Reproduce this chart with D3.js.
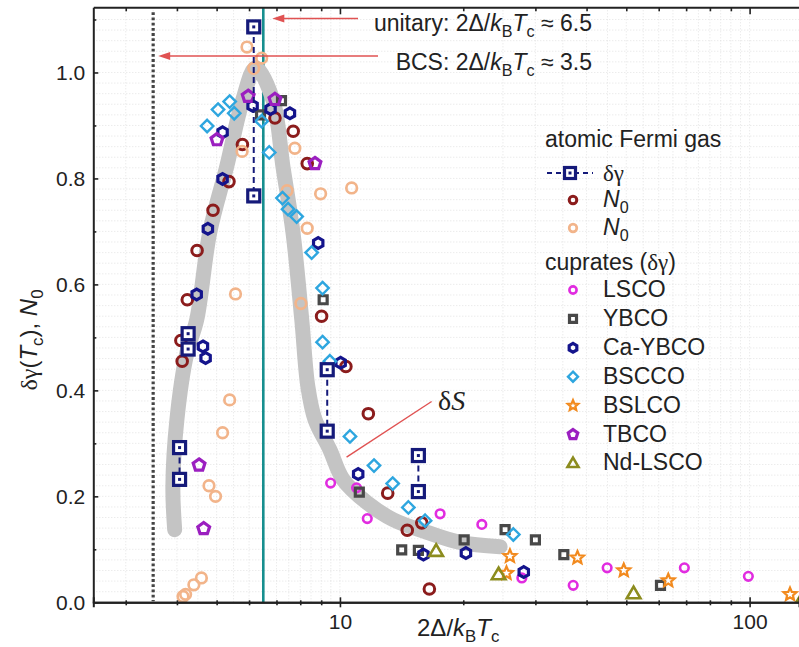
<!DOCTYPE html>
<html><head><meta charset="utf-8">
<script src="https://cdn.jsdelivr.net/npm/d3@7"></script>
<style>
html,body{margin:0;padding:0;background:#fff;}
svg{display:block;font-family:"Liberation Sans",Arial,sans-serif;}
</style></head><body>
<svg id="chart" width="799" height="647"></svg>
<script>
// ---- data ----
// atomic Fermi gas, delta-gamma: each x carries an upper and lower value joined by a dashed line
const dgX    = [4.06, 4.26, 6.16, 9.31, 15.54];
const dgHigh = [0.292, 0.507, 1.086, 0.439, 0.277];
const dgLow  = [0.232, 0.478, 0.767, 0.323, 0.209];

// atomic Fermi gas, N0 (two data sets)
const n0aX = [4.09, 4.12, 4.24, 4.48, 4.90, 5.36, 5.78, 6.94, 7.69, 8.32, 9.02, 10.34, 11.73, 13.08, 14.6, 15.84, 16.53];
const n0aY = [0.494, 0.455, 0.571, 0.664, 0.740, 0.794, 0.864, 0.914, 0.889, 0.828, 0.540, 0.445, 0.356, 0.206, 0.136, 0.150, 0.025];
const n0bX = [4.14, 4.20, 4.40, 4.59, 4.79, 4.97, 5.17, 5.38, 5.56, 5.77, 5.93, 6.16, 6.44, 7.43, 7.76, 8.03, 8.32, 8.97, 10.68];
const n0bY = [0.011, 0.015, 0.033, 0.046, 0.220, 0.200, 0.320, 0.382, 0.582, 0.851, 1.048, 1.008, 1.027, 0.777, 0.857, 0.564, 0.706, 0.771, 0.782];

// cuprates, delta-gamma
const lscoX = [9.49, 10.98, 11.66, 17.56, 22.2, 27.8, 37.1, 44.9, 69.3, 99.3];
const lscoY = [0.225, 0.216, 0.158, 0.167, 0.147, 0.046, 0.032, 0.065, 0.065, 0.049];
const ybcoX = [6.4, 7.2, 9.1, 11.15, 14.15, 15.54, 20.1, 25.3, 30.0, 35.2, 60.6];
const ybcoY = [0.920, 0.947, 0.571, 0.208, 0.099, 0.098, 0.118, 0.137, 0.118, 0.090, 0.032];
const caybcoX = [4.47, 4.63, 4.70, 4.76, 5.17, 5.17, 6.12, 6.77, 7.55, 8.85, 10.04, 11.08, 15.99, 20.3, 28.1];
const caybcoY = [0.581, 0.483, 0.461, 0.705, 0.799, 0.887, 0.937, 0.931, 0.923, 0.678, 0.452, 0.242, 0.090, 0.093, 0.057];
const bsccoX = [4.74, 5.04, 5.38, 5.52, 6.44, 6.72, 7.24, 7.47, 7.84, 8.53, 9.07, 9.07, 9.45, 10.58, 12.11, 13.45, 14.69, 16.14, 26.5];
const bsccoY = [0.899, 0.930, 0.945, 0.923, 0.908, 0.849, 0.763, 0.742, 0.728, 0.660, 0.593, 0.491, 0.455, 0.313, 0.258, 0.224, 0.179, 0.154, 0.128];
const bslcoX = [25.5, 26.0, 38.0, 49.3, 63.3, 125.5];
const bslcoY = [0.055, 0.087, 0.084, 0.060, 0.041, 0.015];
const tbcoX = [4.53, 4.65, 5.01, 5.97, 6.94, 8.69];
const tbcoY = [0.259, 0.139, 0.873, 0.955, 0.949, 0.828];
const ndlscoX = [17.17, 24.4, 52.1, 135];
const ndlscoY = [0.096, 0.052, 0.016, 0.008];

// entropy-jump guide curve (delta S)
const dsX = [3.95, 3.91, 4.00, 4.23, 4.47, 4.81, 5.29, 5.79, 6.23, 6.86, 7.26, 7.68, 8.07, 8.35, 8.69, 9.45, 10.17, 11.64, 13.48, 16.32, 19.65, 24.6];
const dsY = [0.137, 0.218, 0.345, 0.471, 0.533, 0.698, 0.822, 0.948, 1.009, 0.948, 0.822, 0.698, 0.533, 0.407, 0.345, 0.288, 0.232, 0.188, 0.156, 0.132, 0.113, 0.105];

// reference gap ratios
const bcsRatio = 3.5;
const unitaryRatio = 6.5;

// axis ticks
const xMajor = [10, 100];
const xMinor = [3, 4, 5, 6, 7, 8, 9, 20, 30, 40, 50, 60, 70, 80, 90];
const yMajor = [0, 0.2, 0.4, 0.6, 0.8, 1.0];
const yMinor = [0.1, 0.3, 0.5, 0.7, 0.9, 1.1];

// ---- layout ----
const svg = d3.select('#chart');
const pL = 93.3, pR = 799, pT = 7.3, pB = 602.3;
const x = d3.scaleLog().domain([2.5, 132]).range([pL, pR]);
const y = d3.scaleLinear().domain([0, 1.123]).range([pB, pT]);

svg.append('defs').append('clipPath').attr('id', 'plotclip')
  .append('rect').attr('x', pL).attr('y', pT).attr('width', pR - pL).attr('height', pB - pT);

// light dotted background grid
const grid = svg.append('g').attr('stroke', '#dcdcdc').attr('stroke-width', 0.8).attr('stroke-dasharray', '1 2');
const hGrid = d3.range(0.02, 1.12, 0.02);
grid.selectAll('line.h').data(hGrid).join('line')
  .attr('x1', pL).attr('x2', pR).attr('y1', d => y(d)).attr('y2', d => y(d));
const vGrid = [];
[1, 10].forEach(dec => [2.5, 3, 3.5, 4, 4.5, 5, 5.5, 6, 6.5, 7, 7.5, 8, 8.5, 9, 9.5, 10].forEach(m => vGrid.push(m * dec)));
grid.selectAll('line.v').data(vGrid.filter(v => v > 2.5 && v < 132)).join('line')
  .attr('y1', pT).attr('y2', pB).attr('x1', d => x(d)).attr('x2', d => x(d));

const plot = svg.append('g').attr('clip-path', 'url(#plotclip)');

// reference lines
plot.append('line').attr('x1', x(unitaryRatio)).attr('x2', x(unitaryRatio)).attr('y1', pT).attr('y2', pB)
  .attr('stroke', '#178f8f').attr('stroke-width', 2.6);
plot.append('line').attr('x1', x(bcsRatio)).attr('x2', x(bcsRatio)).attr('y1', pT + 5).attr('y2', pB - 1)
  .attr('stroke', '#444').attr('stroke-width', 3.2).attr('stroke-dasharray', '2.8 2.4');

// guide curve
const dsPts = dsX.map((v, i) => [v, dsY[i]]);
plot.append('path').datum(dsPts)
  .attr('d', d3.line().x(d => x(d[0])).y(d => y(d[1])).curve(d3.curveCatmullRom.alpha(0.5)))
  .attr('fill', 'none').attr('stroke', '#c4c4c4').attr('stroke-width', 15)
  .attr('stroke-linecap', 'round').attr('stroke-linejoin', 'round');

// ---- marker shapes ----
function poly(n, r, rot) {
  const p = d3.path();
  for (let i = 0; i < n; i++) {
    const a = rot + i * 2 * Math.PI / n;
    const px = r * Math.cos(a), py = r * Math.sin(a);
    if (i === 0) p.moveTo(px, py); else p.lineTo(px, py);
  }
  p.closePath();
  return p.toString();
}
function star(ro, ri) {
  const p = d3.path();
  for (let i = 0; i < 10; i++) {
    const r = i % 2 ? ri : ro;
    const a = -Math.PI / 2 + i * Math.PI / 5;
    if (i === 0) p.moveTo(r * Math.cos(a), r * Math.sin(a)); else p.lineTo(r * Math.cos(a), r * Math.sin(a));
  }
  p.closePath();
  return p.toString();
}
function square(s) { return `M${-s/2},${-s/2}H${s/2}V${s/2}H${-s/2}Z`; }

const shapes = {
  circle: r => d3.symbol(d3.symbolCircle, Math.PI * r * r)(),
  square: s => square(s),
  hex: r => poly(6, r, -Math.PI / 2),
  diamond: r => poly(4, r, -Math.PI / 2),
  star: r => star(r, r * 0.45),
  pent: r => poly(5, r, -Math.PI / 2),
  tri: r => `M0,${-r}L${r * 0.95},${r * 0.62}L${-r * 0.95},${r * 0.62}Z`
};

const series = [
  {key: 'N0a',   xs: n0aX,    ys: n0aY,    shape: 'circle',  size: 5.3, legSize: 3.8, color: '#8b1c1c', sw: 3},
  {key: 'N0b',   xs: n0bX,    ys: n0bY,    shape: 'circle',  size: 5.3, legSize: 3.8, color: '#f2b48a', sw: 2.7},
  {key: 'LSCO',  xs: lscoX,   ys: lscoY,   shape: 'circle',  size: 4.3, legSize: 3.6, color: '#e12ce0', sw: 2.6},
  {key: 'YBCO',  xs: ybcoX,   ys: ybcoY,   shape: 'square',  size: 8,   legSize: 7,   color: '#484848', sw: 3.2},
  {key: 'Ca-YBCO', xs: caybcoX, ys: caybcoY, shape: 'hex',   size: 5.4, legSize: 4.4, color: '#14148c', sw: 3.2},
  {key: 'BSCCO', xs: bsccoX,  ys: bsccoY,  shape: 'diamond', size: 6.2, legSize: 5,   color: '#2ea6df', sw: 2.4},
  {key: 'BSLCO', xs: bslcoX,  ys: bslcoY,  shape: 'star',    size: 6.8, legSize: 5.5, color: '#f28a1e', sw: 2.2},
  {key: 'TBCO',  xs: tbcoX,   ys: tbcoY,   shape: 'pent',    size: 6.2, legSize: 5,   color: '#9b1fc0', sw: 3.2},
  {key: 'Nd-LSCO', xs: ndlscoX, ys: ndlscoY, shape: 'tri',   size: 7.2, legSize: 5.8, color: '#8c8c1e', sw: 2.6}
];

series.forEach(s => {
  const pts = s.xs.map((v, i) => [v, s.ys[i]]);
  plot.append('g').selectAll('path').data(pts).join('path')
    .attr('d', shapes[s.shape](s.size))
    .attr('transform', d => `translate(${x(d[0])},${y(d[1])})`)
    .attr('fill', 'none').attr('stroke', s.color).attr('stroke-width', s.sw)
    .attr('stroke-linejoin', 'miter');
});

// delta-gamma of the Fermi gas: dashed link + dotted squares
const dgColor = '#151a7a';
const dgPairs = dgX.map((v, i) => ({x: v, hi: dgHigh[i], lo: dgLow[i]}));
const dgG = plot.append('g');
dgG.selectAll('line').data(dgPairs).join('line')
  .attr('x1', d => x(d.x)).attr('x2', d => x(d.x))
  .attr('y1', d => y(d.hi)).attr('y2', d => y(d.lo))
  .attr('stroke', dgColor).attr('stroke-width', 2).attr('stroke-dasharray', '6 4');
function dgMarker(g, cx, cy, s) {
  g.append('rect').attr('x', cx - s / 2).attr('y', cy - s / 2).attr('width', s).attr('height', s)
    .attr('fill', '#fff').attr('stroke', dgColor).attr('stroke-width', 3.2);
  g.append('rect').attr('x', cx - 1.5).attr('y', cy - 1.5).attr('width', 3).attr('height', 3).attr('fill', dgColor);
}
dgPairs.forEach(d => {
  dgMarker(dgG, x(d.x), y(d.hi), 12);
  dgMarker(dgG, x(d.x), y(d.lo), 12);
});

// ---- axes ----
const axisColor = '#222';
function styleAxis(g) {
  g.select('.domain').attr('stroke', axisColor).attr('stroke-width', 2);
  g.selectAll('.tick line').attr('stroke', axisColor).attr('stroke-width', 1.6);
  g.selectAll('.tick text').attr('font-size', 21).attr('fill', '#222').attr('font-family', '"Liberation Sans", Arial, sans-serif');
}
// bottom: labelled majors, unlabelled minors crossing the spine
const bx = svg.append('g').attr('transform', `translate(0,${pB})`)
  .call(d3.axisBottom(x).tickValues(xMajor).tickSize(5).tickPadding(7).tickFormat(d3.format('d')));
styleAxis(bx);
const bxIn = svg.append('g').attr('transform', `translate(0,${pB})`)
  .call(d3.axisBottom(x).tickValues(xMajor).tickSize(-5).tickFormat(''));
styleAxis(bxIn);
const bxm = svg.append('g').attr('transform', `translate(0,${pB})`)
  .call(d3.axisBottom(x).tickValues(xMinor).tickSize(3).tickFormat(''));
styleAxis(bxm); bxm.select('.domain').remove();
const bxm2 = svg.append('g').attr('transform', `translate(0,${pB})`)
  .call(d3.axisBottom(x).tickValues(xMinor).tickSize(-2).tickFormat(''));
styleAxis(bxm2); bxm2.select('.domain').remove();

// top spine with inward ticks
const tx = svg.append('g').attr('transform', `translate(0,${pT})`)
  .call(d3.axisTop(x).tickValues(xMajor).tickSize(-7).tickFormat('').tickSizeOuter(0));
styleAxis(tx);
const txm = svg.append('g').attr('transform', `translate(0,${pT})`)
  .call(d3.axisTop(x).tickValues(xMinor).tickSize(-4).tickFormat(''));
styleAxis(txm); txm.select('.domain').remove();

// left axis with inward ticks
const ly = svg.append('g').attr('transform', `translate(${pL},0)`)
  .call(d3.axisLeft(y).tickValues(yMajor).tickSize(-5).tickPadding(8).tickFormat(d3.format('.1f')).tickSizeOuter(0));
styleAxis(ly);
const lym = svg.append('g').attr('transform', `translate(${pL},0)`)
  .call(d3.axisLeft(y).tickValues(yMinor).tickSize(-3).tickFormat(''));
styleAxis(lym); lym.select('.domain').remove();

// ---- rich text helper (italics, serif greek, subscripts) ----
function rich(sel, parts, fs) {
  let shifted = 0;
  parts.forEach(p => {
    const t = sel.append('tspan').text(p.t);
    if (p.i) t.attr('font-style', 'italic');
    if (p.serif) t.attr('font-family', '"Liberation Serif", "Times New Roman", serif');
    if (p.sub) {
      t.attr('font-size', fs * 0.7).attr('dy', fs * 0.24 - shifted);
      shifted = fs * 0.24;
    } else if (shifted) {
      t.attr('dy', -shifted); shifted = 0;
    }
  });
  return sel;
}

// axis titles
const xt = svg.append('text').attr('x', 417).attr('y', 636).attr('font-size', 24).attr('fill', '#222');
rich(xt, [{t: '2Δ/'}, {t: 'k', i: true}, {t: 'B', sub: true}, {t: 'T', i: true}, {t: 'c', sub: true}], 24);

const ytl = svg.append('text').attr('transform', 'translate(37,340) rotate(-90)')
  .attr('text-anchor', 'middle').attr('font-size', 24).attr('fill', '#222');
rich(ytl, [{t: 'δγ', serif: true}, {t: '('}, {t: 'T', i: true}, {t: 'c', sub: true}, {t: '), '}, {t: 'N', i: true}, {t: '0', sub: true}], 24);

// gap-ratio annotations with arrows
const red = '#e05252';
function arrow(x1, x2, yy) {
  svg.append('line').attr('x1', x1).attr('x2', x2 + 10).attr('y1', yy).attr('y2', yy)
    .attr('stroke', red).attr('stroke-width', 1.6);
  svg.append('path').attr('d', `M${x2},${yy}L${x2 + 12},${yy - 4}L${x2 + 12},${yy + 4}Z`).attr('fill', red);
}
arrow(358, x(unitaryRatio) + 9, 18.5);
arrow(378, x(bcsRatio) + 5, 56);

const ut = svg.append('text').attr('x', 592).attr('y', 31).attr('text-anchor', 'end').attr('font-size', 23).attr('fill', '#222');
rich(ut, [{t: 'unitary: 2Δ/'}, {t: 'k', i: true}, {t: 'B', sub: true}, {t: 'T', i: true}, {t: 'c', sub: true}, {t: ' ≈ ' + unitaryRatio}], 23);
const bt = svg.append('text').attr('x', 592).attr('y', 70).attr('text-anchor', 'end').attr('font-size', 23).attr('fill', '#222');
rich(bt, [{t: 'BCS: 2Δ/'}, {t: 'k', i: true}, {t: 'B', sub: true}, {t: 'T', i: true}, {t: 'c', sub: true}, {t: ' ≈ ' + bcsRatio}], 23);

// delta S pointer
svg.append('line').attr('x1', x(10.38)).attr('y1', y(0.274)).attr('x2', x(16.74)).attr('y2', y(0.379))
  .attr('stroke', red).attr('stroke-width', 1.4);
const dsl = svg.append('text').attr('x', x(17.35)).attr('y', y(0.363)).attr('font-size', 28).attr('fill', '#222')
  .attr('font-family', '"Liberation Serif", "Times New Roman", serif');
dsl.append('tspan').text('δ');
dsl.append('tspan').text('S').attr('font-style', 'italic');

// ---- legend ----
const leg = svg.append('g');
const lx = 545, mx = 573, tx0 = 603, fsL = 23;
leg.append('text').attr('x', lx).attr('y', 147).attr('font-size', fsL).attr('fill', '#222').text('atomic Fermi gas');
// delta-gamma entry
leg.append('line').attr('x1', 547).attr('x2', 593).attr('y1', 173).attr('y2', 173)
  .attr('stroke', dgColor).attr('stroke-width', 2).attr('stroke-dasharray', '5 4');
dgMarker(leg, 570, 173, 11);
rich(leg.append('text').attr('x', tx0).attr('y', 181).attr('font-size', fsL).attr('fill', '#222'),
  [{t: 'δγ', serif: true}], fsL);
const legRows = [
  {s: series[0], y: 200, label: [{t: 'N', i: true}, {t: '0', sub: true}]},
  {s: series[1], y: 228, label: [{t: 'N', i: true}, {t: '0', sub: true}]}
];
rich(leg.append('text').attr('x', lx).attr('y', 270).attr('font-size', fsL).attr('fill', '#222'),
  [{t: 'cuprates ('}, {t: 'δγ', serif: true}, {t: ')'}], fsL);
['LSCO', 'YBCO', 'Ca-YBCO', 'BSCCO', 'BSLCO', 'TBCO', 'Nd-LSCO'].forEach((k, i) => {
  legRows.push({s: series.find(s => s.key === k), y: 290 + i * 28.9, label: [{t: k}]});
});
legRows.forEach(r => {
  leg.append('path').attr('d', shapes[r.s.shape](r.s.legSize))
    .attr('transform', `translate(${mx},${r.y})`)
    .attr('fill', 'none').attr('stroke', r.s.color).attr('stroke-width', r.s.sw);
  rich(leg.append('text').attr('x', tx0).attr('y', r.y + 7).attr('font-size', fsL).attr('fill', '#222'), r.label, fsL);
});
</script>
</body></html>
